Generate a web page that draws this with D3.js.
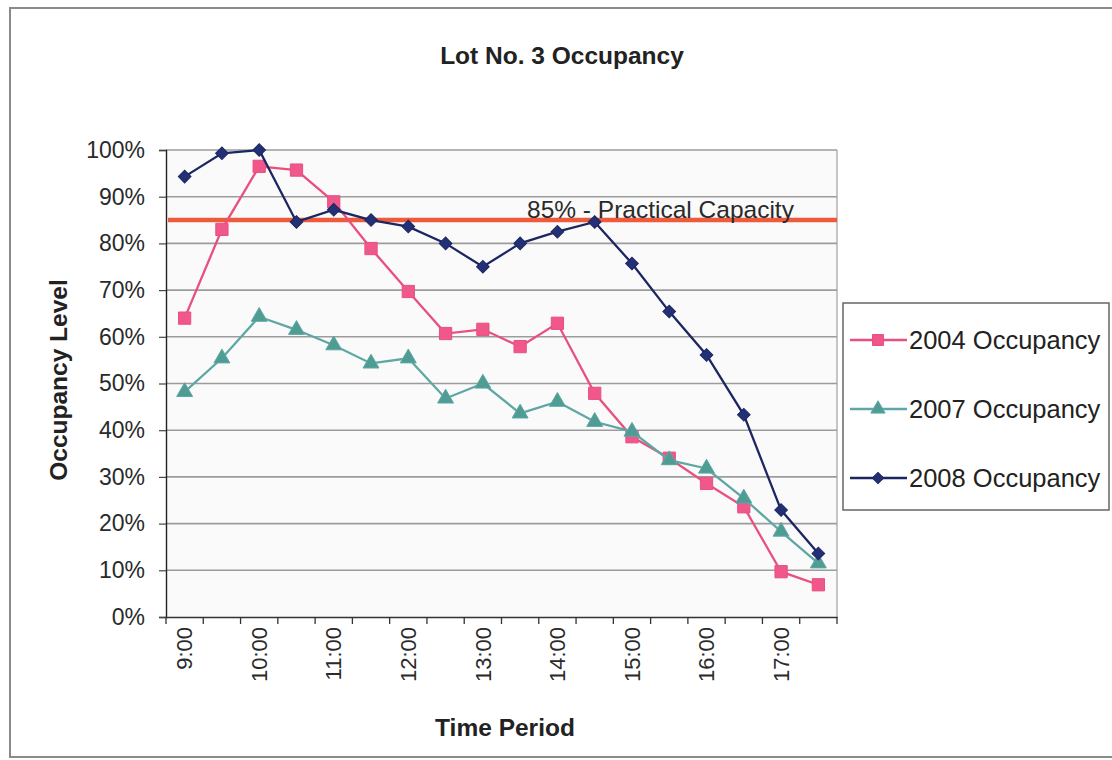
<!DOCTYPE html>
<html><head><meta charset="utf-8">
<script src="https://cdn.jsdelivr.net/npm/d3@7"></script>
<style>body{margin:0;background:#fff;} svg{display:block;font-family:Arial,"Liberation Sans",sans-serif;}</style>
</head><body>
<svg id="c" width="1112" height="760"></svg>
<script>
const times = ["9:00","9:30","10:00","10:30","11:00","11:30","12:00","12:30","13:00","13:30","14:00","14:30","15:00","15:30","16:00","16:30","17:00","17:30"];
const occ2004 = [0.64,0.83,0.965,0.957,0.889,0.789,0.697,0.607,0.616,0.579,0.629,0.479,0.386,0.34,0.286,0.236,0.097,0.069];
const occ2007 = [0.482,0.554,0.643,0.615,0.582,0.543,0.554,0.468,0.50,0.436,0.461,0.418,0.397,0.336,0.318,0.254,0.183,0.115];
const occ2008 = [0.943,0.993,1.0,0.846,0.872,0.85,0.836,0.80,0.75,0.80,0.825,0.846,0.757,0.654,0.561,0.433,0.229,0.136];
const yTicks = [0,0.1,0.2,0.3,0.4,0.5,0.6,0.7,0.8,0.9,1.0];
const capacity = 0.85;
const seriesNames = ["2004 Occupancy","2007 Occupancy","2008 Occupancy"];

const svg = d3.select("#c");
const L = 166, R = 837, T = 150, B = 617;
const x = d3.scaleBand().domain(times).range([L, R]);
const y = d3.scaleLinear().domain([0,1]).range([B, T]);

// outer frame
svg.append("rect").attr("x",10).attr("y",8).attr("width",1112).attr("height",749)
  .attr("fill","#fff").attr("stroke","#8a8a8a").attr("stroke-width",2);

// plot background
svg.append("rect").attr("x",L).attr("y",T).attr("width",R-L).attr("height",B-T).attr("fill","#fafafb");

// gridlines
svg.append("g").selectAll("line").data(yTicks.slice(1)).join("line")
  .attr("x1",L).attr("x2",R).attr("y1",d=>y(d)).attr("y2",d=>y(d))
  .attr("stroke","#9c9c9c").attr("stroke-width",1.6);
svg.append("line").attr("x1",R).attr("x2",R).attr("y1",T).attr("y2",B).attr("stroke","#a0a0a0").attr("stroke-width",1.2);

// y axis
const ya = svg.append("g").attr("transform",`translate(${L},0)`)
  .call(d3.axisLeft(y).tickValues(yTicks).tickFormat(d3.format(".0%")).tickSize(7).tickPadding(14));
ya.select(".domain").attr("stroke","#222").attr("stroke-width",1.4);
ya.selectAll(".tick line").attr("stroke","#444").attr("stroke-width",1.2);
ya.selectAll("text").attr("font-size",23).attr("fill","#2a2a2a");

// x axis
const xa = svg.append("g").attr("transform",`translate(0,${B})`)
  .call(d3.axisBottom(x).tickValues(times.filter(t=>t.endsWith(":00"))).tickSize(0).tickPadding(0));
xa.select(".domain").attr("stroke","#333").attr("stroke-width",1.4);
xa.selectAll("text").attr("font-size",22).attr("fill","#2a2a2a")
  .attr("text-anchor","end").attr("transform","rotate(-90)").attr("x",-10).attr("y",0).attr("dy","0.35em");
const bounds = times.map(t=>x(t)).concat([x(times[times.length-1])+x.bandwidth()]);
svg.append("g").selectAll("line").data(bounds).join("line")
  .attr("x1",d=>d).attr("x2",d=>d).attr("y1",B).attr("y2",B+7).attr("stroke","#333").attr("stroke-width",1.3);

// capacity line
svg.append("line").attr("x1",L+2).attr("x2",R).attr("y1",y(capacity)).attr("y2",y(capacity))
  .attr("stroke","#ee5a3c").attr("stroke-width",4.5);
svg.append("text").attr("x",527).attr("y",y(capacity)-2).attr("font-size",24.5).attr("fill","#2a2a2a")
  .text("85% - Practical Capacity");

const cx = d => x(d) + x.bandwidth()/2;
const line = d3.line().x(d=>cx(d.t)).y(d=>y(d.v));
const series = [
  {name:seriesNames[0], vals:occ2004, color:"#e8507e", mfill:"#f0578a", sym:d3.symbolSquare, size:150, rot:0},
  {name:seriesNames[1], vals:occ2007, color:"#5fa7a4", mfill:"#4f9c94", sym:d3.symbolTriangle, size:110, rot:0},
  {name:seriesNames[2], vals:occ2008, color:"#1c2660", mfill:"#233075", sym:d3.symbolSquare, size:80, rot:45}
];
series.forEach(s=>{
  const pts = times.map((t,i)=>({t, v:s.vals[i]}));
  svg.append("path").datum(pts).attr("d",line).attr("fill","none").attr("stroke",s.color).attr("stroke-width",2.3);
  svg.append("g").selectAll("path").data(pts).join("path")
    .attr("d",d3.symbol().type(s.sym).size(s.size))
    .attr("transform",d=>`translate(${cx(d.t)},${y(d.v)}) rotate(${s.rot})`)
    .attr("fill",s.mfill).attr("stroke",s.color).attr("stroke-width",1);
});

// legend
svg.append("rect").attr("x",843).attr("y",303).attr("width",266).attr("height",207)
  .attr("fill","#fff").attr("stroke","#666").attr("stroke-width",1.5);
const lg = svg.append("g").selectAll("g").data(series).join("g")
  .attr("transform",(d,i)=>`translate(0,${340+i*69})`);
lg.append("line").attr("x1",850).attr("x2",907).attr("y1",0).attr("y2",0).attr("stroke",d=>d.color).attr("stroke-width",2.3);
lg.append("path").attr("d",d=>d3.symbol().type(d.sym).size(d.size*0.8)())
  .attr("transform",d=>`translate(878,0) rotate(${d.rot})`).attr("fill",d=>d.mfill).attr("stroke",d=>d.color);
lg.append("text").attr("x",909).attr("y",0).attr("dy","0.35em").attr("font-size",25.5).attr("fill","#222").text(d=>d.name);

// titles
svg.append("text").attr("x",562).attr("y",64).attr("text-anchor","middle").attr("font-size",24.5)
  .attr("font-weight","bold").attr("fill","#222").text("Lot No. 3 Occupancy");
svg.append("text").attr("transform",`translate(58,380) rotate(-90)`).attr("text-anchor","middle")
  .attr("dy","0.35em").attr("font-size",24.5).attr("font-weight","bold").attr("fill","#222").text("Occupancy Level");
svg.append("text").attr("x",505).attr("y",736).attr("text-anchor","middle").attr("font-size",24.5)
  .attr("font-weight","bold").attr("fill","#222").text("Time Period");
</script>
</body></html>
